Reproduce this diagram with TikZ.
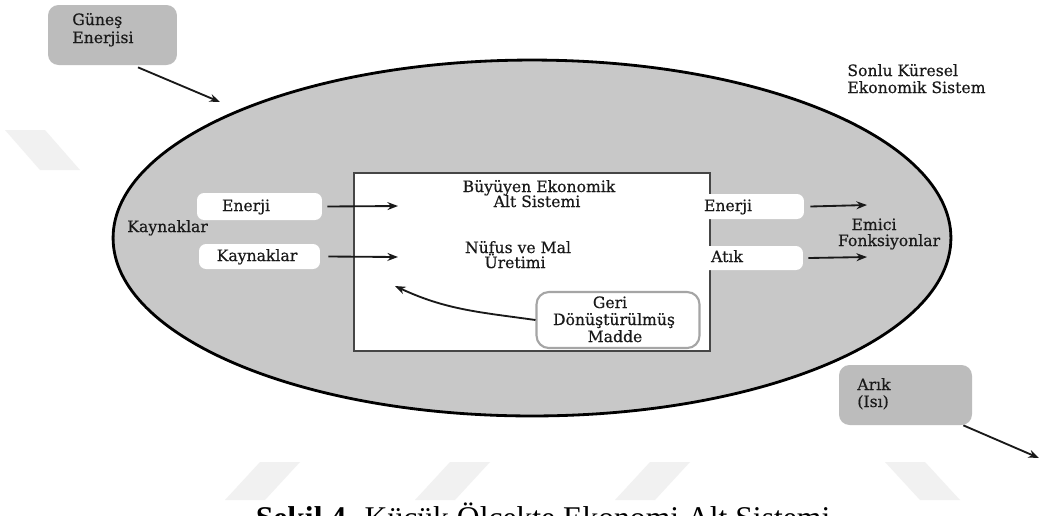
\documentclass[tikz,border=0pt]{standalone}
\usepackage{fontspec}
\setmainfont{DejaVu Serif}[FakeBold=0.5]
\newfontfamily\capfont{Liberation Serif}
\usetikzlibrary{arrows.meta}
\definecolor{ellfill}{RGB}{200,200,200}
\definecolor{boxgray}{RGB}{188,188,188}
\definecolor{ink}{RGB}{25,25,25}
\definecolor{wmark}{RGB}{241,241,241}
\definecolor{linegray}{RGB}{70,70,70}
\definecolor{gborder}{RGB}{165,165,165}
\begin{document}
\begin{tikzpicture}[x=0.02cm,y=-0.02cm,
  txt/.style={font=\fontsize{8.9}{9.4}\selectfont, text=ink, inner sep=0pt},
  wbox/.style={fill=white, rounded corners=4pt, inner sep=0pt},
  gbox/.style={fill=boxgray, rounded corners=6pt, inner sep=0pt},
  arr/.style={draw=ink, line width=1.05pt, -{Stealth[length=6pt,width=4.5pt]}},
  wm/.style={fill=wmark, draw=none}]
\useasboundingbox (0,0) rectangle (1041,515);
\fill[white] (0,0) rectangle (1041,515);
% watermark
\fill[wm] (225,500) -- (260,462) -- (300,462) -- (265,500) -- cycle;
\fill[wm] (415,500) -- (450,462) -- (490,462) -- (455,500) -- cycle;
\fill[wm] (615,500) -- (650,462) -- (690,462) -- (655,500) -- cycle;
\fill[wm] (885,462) -- (925,462) -- (960,500) -- (920,500) -- cycle;
\fill[wm] (5,130) -- (45,130) -- (80,170) -- (40,170) -- cycle;
% outer system
\draw[line width=1.6pt, fill=ellfill] (532,238) ellipse [x radius=8.38cm, y radius=3.56cm];
\node[draw=linegray, line width=0.7pt, fill=white, minimum width=7.12cm, minimum height=3.56cm, inner sep=0pt] (sub) at (532,262) {};
% boxes
\node[gbox, minimum width=2.58cm, minimum height=1.2cm] (guenes) at (112.5,35) {};
\node[gbox, minimum width=2.66cm, minimum height=1.2cm] (arik) at (905.5,395) {};
\node[wbox, minimum width=2.5cm, minimum height=0.54cm] (e1) at (259.5,206.5) {};
\node[wbox, minimum width=2.42cm, minimum height=0.5cm] (k1) at (259.5,256.5) {};
\node[wbox, minimum width=2.78cm, minimum height=0.5cm] (e2) at (734.5,206.5) {};
\node[wbox, minimum width=2.78cm, minimum height=0.48cm] (a2) at (733.5,258) {};
\node[fill=white, draw=gborder, line width=1.2pt, rounded corners=7pt, inner sep=0pt, minimum width=3.26cm, minimum height=1.12cm] (geri) at (618,320) {};
% texts
\node[txt, anchor=base west] (tg1) at (72,25) {Güneş};
\node[txt, anchor=base west] (tg2) at (72,43) {Enerjisi};
\node[txt, anchor=base west] (ta1) at (857,390) {Arık};
\node[txt, anchor=base west] (ta2) at (857,407) {(Isı)};
\node[txt, anchor=base west] (ts1) at (847,76) {Sonlu Küresel};
\node[txt, anchor=base west] (ts2) at (847,93) {Ekonomik Sistem};
\node[txt, anchor=base west] (tk) at (127,232) {Kaynaklar};
\node[txt, anchor=base] (te1) at (246,211) {Enerji};
\node[txt, anchor=base] (tk1) at (257,261) {Kaynaklar};
\node[txt, anchor=base] (te2) at (728,211) {Enerji};
\node[txt, anchor=base] (ta3) at (727,262) {Atık};
\node[txt, anchor=base] (tb1) at (539,192) {Büyüyen Ekonomik};
\node[txt, anchor=base] (tb2) at (537,207) {Alt Sistemi};
\node[txt, anchor=base] (tn1) at (518,253) {Nüfus ve Mal};
\node[txt, anchor=base] (tn2) at (515,268) {Üretimi};
\node[txt, anchor=base] (tr1) at (610,308) {Geri};
\node[txt, anchor=base] (tr2) at (614,325) {Dönüştürülmüş};
\node[txt, anchor=base] (tr3) at (615,342) {Madde};
\node[txt, anchor=base] (tm1) at (874,230) {Emici};
\node[txt, anchor=base] (tm2) at (889,246) {Fonksiyonlar};
% arrow tips
\coordinate (gtip) at (220,102);
\coordinate (atip) at (1039,458);
\coordinate (t1) at (398,206);
\coordinate (t2) at (398,257);
\coordinate (t3) at (867,205);
\coordinate (t4) at (867,257);
\coordinate (t5) at (395,286);
% connectors
\draw[arr] ([xshift=0.51cm,yshift=-0.04cm]guenes.south) -- (gtip);
\draw[arr] ([xshift=-0.18cm]arik.south east) -- (atip);
\draw[arr] ([xshift=0.1cm]e1.east) -- (t1);
\draw[arr] ([xshift=0.16cm]k1.east) -- (t2);
\draw[arr] ([xshift=0.12cm]e2.east) -- (t3);
\draw[arr] ([xshift=0.1cm]a2.east) -- (t4);
\draw[arr] (geri.west) to[out=172,in=-25] (t5);
% caption
\node[font=\capfont\fontsize{18}{20}\selectfont, anchor=base, inner sep=0pt, text=black] (cap) at (543,528) {\textbf{Şekil 4.} Küçük Ölçekte Ekonomi Alt Sistemi};
\end{tikzpicture}
\end{document}
